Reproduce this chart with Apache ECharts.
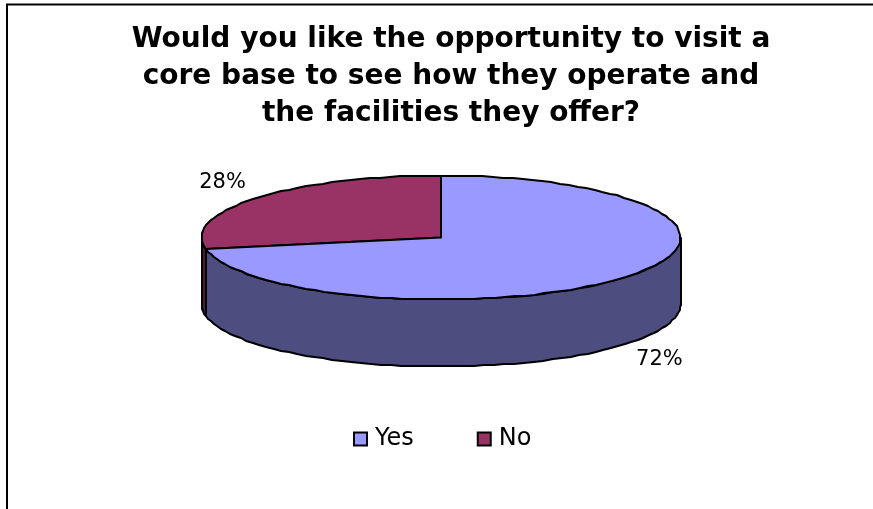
<!DOCTYPE html>
<html>
<head>
<meta charset="utf-8">
<style>html,body{margin:0;padding:0;background:#fff}#chart{width:873px;height:509px}</style>
<script src="https://cdn.jsdelivr.net/npm/echarts@6/dist/echarts.min.js"></script>
</head>
<body>
<div id="chart"></div>
<script>
const titleLines = [
  'Would you like the opportunity to visit a',
  'core base to see how they operate and',
  'the facilities they offer?'
];
const categories = ['Yes', 'No'];
const shares = [72, 28];
const topColors = ['#9999FF', '#993366'];
const wallColors = ['#4D4D80', '#4D1A33'];

// Tilted pie geometry
const cx = 441, cy = 237.5, rx = 239.5, ry = 62, depth = 67;
const total = shares.reduce((a, b) => a + b, 0);
const STEP = 2.5; // degrees per outline segment

// Angles run clockwise from 12 o'clock; rim points snap to whole pixels.
function onRim(deg, dy) {
  const t = deg * Math.PI / 180;
  return [Math.round(cx + rx * Math.sin(t)), Math.round(cy - ry * Math.cos(t) + (dy || 0))];
}
function arc(from, to, dy) {
  const pts = [];
  const n = Math.max(1, Math.ceil((to - from) / STEP));
  for (let i = 0; i <= n; i++) pts.push(onRim(from + (to - from) * i / n, dy));
  return pts;
}
function sliceRange(index) {
  const before = shares.slice(0, index).reduce((a, b) => a + b, 0);
  return [before / total * 360, (before + shares[index]) / total * 360];
}
const outline = { stroke: '#000', lineWidth: 2, lineJoin: 'round' };

function renderSlice(index) {
  const [a0, a1] = sliceRange(index);
  const children = [];
  // Only the front half of the rim shows a wall.
  const w0 = Math.max(a0, 90), w1 = Math.min(a1, 270);
  if (w1 > w0) {
    children.push({
      type: 'polygon',
      shape: { points: arc(w0, w1, 0).concat(arc(w0, w1, depth).reverse()) },
      style: Object.assign({ fill: wallColors[index] }, outline)
    });
  }
  children.push({
    type: 'polygon',
    shape: { points: [[cx, cy]].concat(arc(a0, a1, 0)) },
    style: Object.assign({ fill: topColors[index] }, outline)
  });
  // Percent label placed outside the rim at the slice's mid angle.
  const mid = (a0 + a1) / 2 * Math.PI / 180;
  const cosm = Math.cos(mid);
  children.push({
    type: 'text',
    style: {
      text: Math.round(shares[index] / total * 100) + '%',
      x: cx + (rx + 44) * Math.sin(mid),
      y: cy - (ry + 24) * cosm + (cosm < 0 ? depth : 0),
      align: 'center',
      verticalAlign: 'middle',
      fill: '#000',
      font: '21px "DejaVu Sans"'
    }
  });
  return { type: 'group', children };
}

const chart = echarts.init(document.getElementById('chart'), null, { renderer: 'canvas' });
chart.setOption({
  animation: false,
  backgroundColor: '#fff',
  title: {
    text: titleLines.join('\n'),
    left: 446,
    top: 16,
    textAlign: 'center',
    textStyle: {
      fontFamily: 'DejaVu Sans',
      fontWeight: 'bold',
      fontSize: 28,
      lineHeight: 37,
      color: '#000'
    }
  },
  legend: {
    data: categories,
    left: 353,
    top: 427,
    padding: 0,
    icon: 'rect',
    itemWidth: 13,
    itemHeight: 13,
    itemGap: 63,
    textStyle: { fontFamily: 'DejaVu Sans', fontSize: 24, color: '#000', padding: [0, 0, 0, 3] }
  },
  // Slices paint in reverse so the larger wall overlaps the narrow one on the left.
  series: categories.map((name, i) => ({
    type: 'custom',
    name,
    coordinateSystem: 'none',
    z: 2 + categories.length - i,
    data: [shares[i]],
    itemStyle: { color: topColors[i], borderColor: '#000', borderWidth: 2 },
    renderItem: () => renderSlice(i)
  })),
  graphic: [{
    type: 'polyline',
    shape: { points: [[7, 509], [7, 4.5], [873, 4.5]] },
    style: { stroke: '#000', lineWidth: 2, fill: null }
  }]
});
</script>
</body>
</html>
